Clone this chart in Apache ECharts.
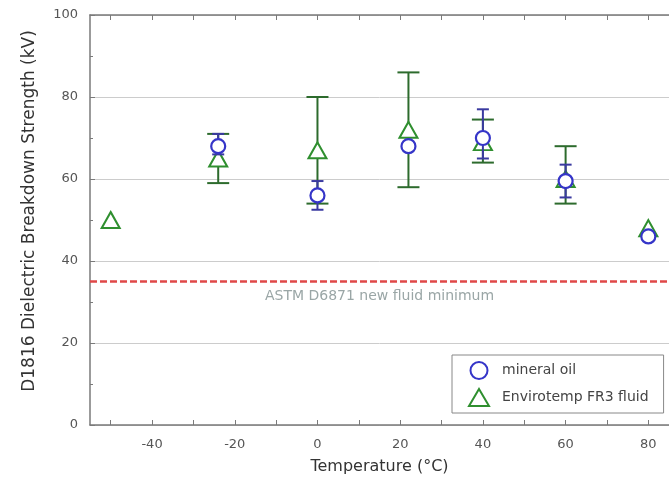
<!DOCTYPE html>
<html><head><meta charset="utf-8">
<script src="https://cdn.jsdelivr.net/npm/echarts@6/dist/echarts.min.js"></script>
<style>html,body{margin:0;padding:0;background:#fff}#c{width:669px;height:491px}</style>
</head><body><div id="c"></div>
<script>
// ---- data ----
const mineralTemps = [-24, 0, 22, 40, 60, 80];
const mineralOil   = [68, 56, 68, 70, 59.5, 46];
const mineralLow   = [66, 52.5, null, 65, 55.5, null];
const mineralHigh  = [71, 59.5, null, 77, 63.5, null];
const fr3Temps = [-50, -24, 0, 22, 40, 60, 80];
const fr3Fluid = [50, 65, 67, 72, 69, 60, 48];
const fr3Low   = [null, 59, 54, 58, 64, 54, null];
const fr3High  = [null, 71, 80, 86, 74.5, 68, null];
const astmMinimum = 35;
const xTickLabels = [-40, -20, 0, 20, 40, 60, 80];
const xTicks = [-50, -40, -30, -20, -10, 0, 10, 20, 30, 40, 50, 60, 70, 80];
const seriesNames = ['mineral oil', 'Envirotemp FR3 fluid'];

// ---- build ----
const blue = '#3535c8', green = '#2f8f2f', greenBar = '#2d6b2d', blueBar = '#3a3aa0';
function pts(xs, ys) { return xs.map((x, i) => [x, ys[i]]); }
function errs(xs, lo, hi) {
  const out = [];
  xs.forEach((x, i) => { if (lo[i] != null && hi[i] != null) out.push([x, lo[i], hi[i]]); });
  return out;
}
function errRender(capHalf, color) {
  return function (params, api) {
    const x = api.value(0), lo = api.value(1), hi = api.value(2);
    const a = api.coord([x, lo]), b = api.coord([x, hi]);
    const st = { stroke: color, lineWidth: 2 };
    return { type: 'group', children: [
      { type: 'line', shape: { x1: a[0], y1: a[1], x2: b[0], y2: b[1] }, style: st },
      { type: 'line', shape: { x1: a[0] - capHalf, y1: a[1], x2: a[0] + capHalf, y2: a[1] }, style: st },
      { type: 'line', shape: { x1: b[0] - capHalf, y1: b[1], x2: b[0] + capHalf, y2: b[1] }, style: st }
    ]};
  };
}
const font = 'DejaVu Sans';
const axisGray = '#7a7a7a';
const chart = echarts.init(document.getElementById('c'));
chart.setOption({
  backgroundColor: '#fff',
  animation: false,
  grid: { left: 90, top: 15, width: 587, height: 410 },
  xAxis: [{
    type: 'value', min: -55, max: 85, position: 'bottom',
    name: 'Temperature (°C)', nameLocation: 'middle', nameGap: 34,
    nameTextStyle: { fontFamily: font, fontSize: 16, color: '#333' },
    axisLine: { show: true, onZero: false, lineStyle: { color: axisGray, width: 1.5 } },
    axisTick: { show: true, inside: true, length: 5, customValues: xTicks, lineStyle: { color: axisGray } },
    axisLabel: { customValues: xTickLabels, margin: 13, fontFamily: font, fontSize: 13, color: '#555' },
    splitLine: { show: false }
  }, {
    type: 'value', min: -55, max: 85, position: 'top',
    axisLine: { show: true, onZero: false, lineStyle: { color: axisGray, width: 1.5 } },
    axisTick: { show: true, inside: true, length: 5, customValues: xTicks, lineStyle: { color: axisGray } },
    axisLabel: { show: false }, splitLine: { show: false }
  }],
  yAxis: {
    type: 'value', min: 0, max: 100, interval: 20,
    name: 'D1816 Dielectric Breakdown Strength (kV)', nameLocation: 'middle', nameGap: 52,
    nameTextStyle: { fontFamily: font, fontSize: 17, color: '#333', padding: [0, 0, 0, 18] },
    axisLine: { show: true, onZero: false, lineStyle: { color: axisGray, width: 1.5 } },
    axisTick: { show: true, inside: true, length: 5, lineStyle: { color: axisGray } },
    minorTick: { show: true, splitNumber: 2, length: 3, lineStyle: { color: axisGray } },
    axisLabel: { margin: 12, fontFamily: font, fontSize: 13, color: '#555' },
    splitLine: { show: true, lineStyle: { color: '#cccccc', width: 1 } }
  },
  legend: {
    orient: 'vertical', left: 452, top: 355,
    data: seriesNames,
    backgroundColor: '#fff', borderColor: '#888', borderWidth: 1,
    padding: [6, 15, 6, 16], itemGap: 8, itemWidth: 20, itemHeight: 17,
    textStyle: { fontFamily: font, fontSize: 14, color: '#444', padding: [0, 0, 0, 8] }
  },
  series: [
    { type: 'custom', name: 'fr3err', renderItem: errRender(11, greenBar), data: errs(fr3Temps, fr3Low, fr3High),
      encode: { x: 0, y: [1, 2] }, z: 2, silent: true },
    { type: 'scatter', name: seriesNames[1], data: pts(fr3Temps, fr3Fluid), symbol: 'triangle', symbolSize: [18, 16],
      itemStyle: { color: '#fff', borderColor: green, borderWidth: 2, opacity: 1 }, z: 3,
      markLine: {
        silent: true, symbol: 'none',
        lineStyle: { color: '#e04848', type: [7, 3], width: 2.5 },
        label: { show: true, position: 'insideMiddleBottom', formatter: 'ASTM D6871 new fluid minimum',
          fontFamily: font, fontSize: 14, color: '#9aa6a6', distance: 8 },
        data: [{ yAxis: astmMinimum }]
      } },
    { type: 'custom', name: 'minerr', renderItem: errRender(6, blueBar), data: errs(mineralTemps, mineralLow, mineralHigh),
      encode: { x: 0, y: [1, 2] }, z: 4, silent: true },
    { type: 'scatter', name: seriesNames[0], data: pts(mineralTemps, mineralOil), symbol: 'circle', symbolSize: 14,
      itemStyle: { color: '#fff', borderColor: blue, borderWidth: 2.2, opacity: 1 }, z: 5 }
  ]
});
</script>
</body></html>
